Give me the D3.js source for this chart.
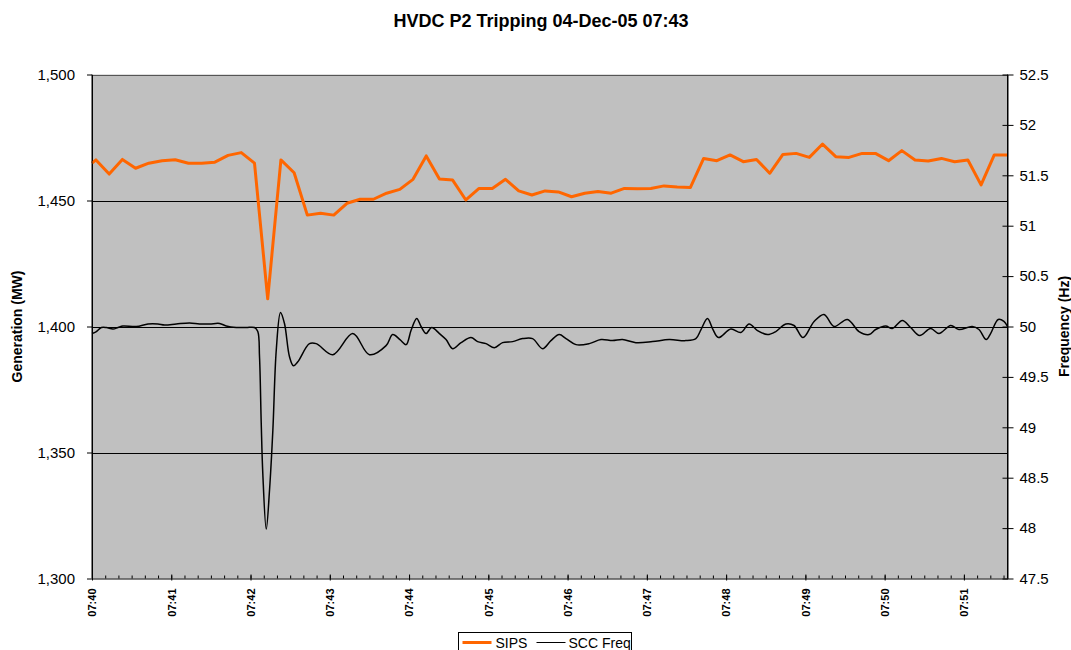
<!DOCTYPE html>
<html>
<head>
<meta charset="utf-8">
<script src="https://cdn.jsdelivr.net/npm/d3@7"></script>
<style>
  body { margin: 0; background: #fff; }
  text { font-family: "Liberation Sans", Arial, sans-serif; fill: #000; }
</style>
</head>
<body>
<script>
// SIPS generation, sampled every 10 s (MW)
const sipsTimes = [
  "07:40:00", "07:40:03", "07:40:13", "07:40:23", "07:40:33", "07:40:43", "07:40:53",
  "07:41:03", "07:41:13", "07:41:23", "07:41:33", "07:41:43", "07:41:53",
  "07:42:03", "07:42:13", "07:42:23", "07:42:33", "07:42:43", "07:42:53",
  "07:43:03", "07:43:13", "07:43:23", "07:43:33", "07:43:43", "07:43:53",
  "07:44:03", "07:44:13", "07:44:23", "07:44:33", "07:44:43", "07:44:53",
  "07:45:03", "07:45:13", "07:45:23", "07:45:33", "07:45:43", "07:45:53",
  "07:46:03", "07:46:13", "07:46:23", "07:46:33", "07:46:43", "07:46:53",
  "07:47:03", "07:47:13", "07:47:23", "07:47:33", "07:47:43", "07:47:53",
  "07:48:03", "07:48:13", "07:48:23", "07:48:33", "07:48:43", "07:48:53",
  "07:49:03", "07:49:13", "07:49:23", "07:49:33", "07:49:43", "07:49:53",
  "07:50:03", "07:50:13", "07:50:23", "07:50:33", "07:50:43", "07:50:53",
  "07:51:03", "07:51:13", "07:51:23", "07:51:33"
];
const sipsValues = [
  1464.8, 1466.1, 1460.5, 1466.3, 1462.8, 1464.8, 1465.8,
  1466.2, 1464.8, 1464.8, 1465.2, 1467.9, 1469.0,
  1464.8, 1411.0, 1466.1, 1461.0, 1444.2, 1444.9,
  1444.2, 1448.9, 1450.5, 1450.5, 1452.9, 1454.4,
  1458.4, 1467.7, 1458.5, 1458.1, 1450.2, 1454.8,
  1454.8, 1458.4, 1453.8, 1452.2, 1453.8, 1453.4,
  1451.5, 1452.9, 1453.6, 1452.9, 1454.8, 1454.7,
  1454.8, 1455.8, 1455.4, 1455.2, 1466.7, 1465.8,
  1468.1, 1465.4, 1466.3, 1460.8, 1468.3, 1468.7,
  1467.1, 1472.4, 1467.4, 1467.1, 1468.7, 1468.7,
  1465.8, 1469.8, 1466.1, 1465.7, 1466.7, 1465.4,
  1466.1, 1456.2, 1468.1, 1468.1
];

// SCC frequency, seconds after 07:40:00 (Hz)
const freqSecs = [
  0, 3.3, 7.1, 10.9, 15.9, 19.7, 23.4, 33.6, 42.4, 49.9, 55, 63.8, 73.9, 81.4, 89, 96.6,
  101.6, 109.2, 116.8, 123, 125.5, 126.8, 128.1, 129.3, 131.9, 134.4, 136.9, 139.5,
  142.7, 145.7, 149.5, 152.5, 155.8, 164.6, 169.7, 182.3, 197.4, 210, 222.6, 227.6,
  233.1, 237.8, 241.6, 245.8, 249.1, 252.9, 257.1, 263, 268, 273, 279.4, 286.9,
  291.9, 298.3, 304.6, 310.8, 318.4, 326, 333.5, 341.1, 347.4, 353.7, 358.8, 366.4,
  376.4, 385.3, 394, 401.6, 411.7, 424.3, 436.9, 449.5, 457.1, 461, 465.9, 469.7,
  474.2, 483.6, 491.1, 497.4, 503.7, 511.3, 517.6, 525.2, 531.4, 538.2, 546.6, 554.1,
  561.7, 571.8, 580.6, 588.2, 593.2, 600.8, 605.8, 613.4, 619.7, 626.5, 634.8, 641.1,
  650, 656.2, 666.3, 671.4, 676.9, 680.2, 686, 690.3, 693
];
const freqValues = [
  49.93, 49.95, 49.99, 49.99, 49.975, 49.99, 50.005, 50.0, 50.025, 50.025, 50.015, 50.025, 50.035, 50.025, 50.025, 50.03,
  50.005, 49.99, 49.99, 49.99, 49.95, 49.70, 49.04, 48.54, 47.99, 48.38, 48.97, 49.77,
  50.14, 50.03, 49.70, 49.61, 49.65, 49.83, 49.83, 49.72, 49.93, 49.72, 49.81, 49.92,
  49.87, 49.82, 49.965, 50.08, 50.0, 49.93, 49.99, 49.93, 49.87, 49.78, 49.84, 49.89,
  49.85, 49.83, 49.79, 49.84, 49.85, 49.88, 49.88, 49.78, 49.86, 49.92, 49.88, 49.82,
  49.83, 49.87, 49.86, 49.87, 49.84, 49.85, 49.87, 49.86, 49.88, 49.97, 50.08, 49.98,
  49.89, 49.975, 49.94, 50.025, 49.96, 49.92, 49.95, 50.025, 50.01, 49.89, 50.05, 50.12,
  50.0, 50.07, 49.95, 49.92, 49.97, 50.005, 49.98, 50.06, 49.99, 49.91, 49.98, 49.93,
  50.01, 49.97, 50.0, 49.97, 49.87, 49.93, 50.07, 50.05, 50.0
];

const genTicks = [1300, 1350, 1400, 1450, 1500];
const freqTicks = [47.5, 48, 48.5, 49, 49.5, 50, 50.5, 51, 51.5, 52, 52.5];

const width = 1071;
const height = 650;
const plotLeft = 92;
const plotRight = 1007.5;
const plotTop = 74.5;
const plotBottom = 578.5;

const parseTime = d3.timeParse("%H:%M:%S");
const t0 = parseTime("07:40:00");
const tEnd = parseTime("07:51:33");

const svg = d3
  .select("body")
  .append("svg")
  .attr("width", width)
  .attr("height", height);

const xScale = d3.scaleTime().domain([t0, tEnd]).range([plotLeft, plotRight]);
const yScale = d3.scaleLinear().domain([1300, 1500]).range([plotBottom, plotTop]);
const y2Scale = d3.scaleLinear().domain([47.5, 52.5]).range([plotBottom, plotTop]);

// plot area
svg.append("rect")
  .attr("x", plotLeft)
  .attr("y", plotTop)
  .attr("width", plotRight - plotLeft)
  .attr("height", plotBottom - plotTop)
  .attr("fill", "#c0c0c0");

// gridlines
svg.append("g")
  .selectAll("line")
  .data(genTicks.slice(1))
  .enter()
  .append("line")
  .attr("x1", plotLeft)
  .attr("x2", plotRight)
  .attr("y1", d => Math.round(yScale(d)) + 0.5)
  .attr("y2", d => Math.round(yScale(d)) + 0.5)
  .attr("stroke", d => d === 1500 ? "#555" : "#000")
  .attr("stroke-width", 1);

// left axis
const yAxis = d3.axisLeft(yScale)
  .tickValues(genTicks)
  .tickFormat(d3.format(","))
  .tickSize(5)
  .tickPadding(12)
  .tickSizeOuter(0);
const gy = svg.append("g")
  .attr("transform", `translate(${plotLeft}, 0)`)
  .call(yAxis);
gy.selectAll("text").style("font-size", "15px");

// right axis, ticks cross the line
const y2Axis = d3.axisRight(y2Scale)
  .tickValues(freqTicks)
  .tickFormat(d => d)
  .tickSize(6)
  .tickPadding(6)
  .tickSizeOuter(0);
const gy2 = svg.append("g")
  .attr("transform", `translate(${plotRight}, 0)`)
  .call(y2Axis);
gy2.selectAll(".tick line").attr("x1", -5);
gy2.selectAll("text").style("font-size", "15px");

// SIPS line
const sipsData = sipsTimes.map((t, i) => ({ t: parseTime(t), v: sipsValues[i] }));
svg.append("path")
  .datum(sipsData)
  .attr("fill", "none")
  .attr("stroke", "#ff6600")
  .attr("stroke-width", 3)
  .attr("stroke-linejoin", "round")
  .attr("d", d3.line().x(d => xScale(d.t)).y(d => yScale(d.v)));

// frequency line
const freqData = freqSecs.map((s, i) => ({ t: new Date(t0.getTime() + s * 1000), v: freqValues[i] }));
svg.append("path")
  .datum(freqData)
  .attr("fill", "none")
  .attr("stroke", "#000")
  .attr("stroke-width", 1.5)
  .attr("d", d3.line().curve(d3.curveCatmullRom.alpha(0.5)).x(d => xScale(d.t)).y(d => y2Scale(d.v)));

// x axis
const xMinor = d3.axisBottom(xScale)
  .ticks(d3.timeSecond.every(10))
  .tickFormat("")
  .tickSize(-3)
  .tickSizeOuter(0);
svg.append("g")
  .attr("transform", `translate(0, ${plotBottom})`)
  .call(xMinor)
  .select(".domain").remove();

const xAxis = d3.axisBottom(xScale)
  .ticks(d3.timeMinute.every(1))
  .tickFormat(d3.timeFormat("%H:%M"))
  .tickSize(2)
  .tickSizeOuter(0);
const gx = svg.append("g")
  .attr("transform", `translate(0, ${plotBottom})`)
  .call(xAxis);
gx.selectAll(".tick line").attr("y1", -4);
gx.selectAll("text")
  .attr("transform", "translate(0, 10) rotate(-90)")
  .attr("x", 0)
  .attr("y", 0)
  .attr("dy", "0.35em")
  .attr("text-anchor", "end")
  .style("font-size", "11px")
  .style("font-weight", "bold");

// left and right border lines
svg.append("line")
  .attr("x1", plotLeft).attr("x2", plotLeft)
  .attr("y1", plotTop).attr("y2", plotBottom)
  .attr("stroke", "#000");
svg.append("line")
  .attr("x1", plotRight).attr("x2", plotRight)
  .attr("y1", plotTop).attr("y2", plotBottom)
  .attr("stroke", "#000");

// titles
svg.append("text")
  .attr("x", 541)
  .attr("y", 27)
  .attr("text-anchor", "middle")
  .style("font-size", "18px")
  .style("font-weight", "bold")
  .text("HVDC P2 Tripping 04-Dec-05 07:43");

svg.append("text")
  .attr("transform", `translate(22, ${(plotTop + plotBottom) / 2}) rotate(-90)`)
  .attr("text-anchor", "middle")
  .style("font-size", "14px")
  .style("font-weight", "bold")
  .text("Generation (MW)");

svg.append("text")
  .attr("transform", `translate(1069, ${(plotTop + plotBottom) / 2}) rotate(-90)`)
  .attr("text-anchor", "middle")
  .style("font-size", "14px")
  .style("font-weight", "bold")
  .text("Frequency (Hz)");

// legend
const legend = svg.append("g").attr("transform", "translate(458.5, 632.5)");
legend.append("rect")
  .attr("width", 173)
  .attr("height", 24)
  .attr("fill", "#fff")
  .attr("stroke", "#000");
legend.append("line")
  .attr("x1", 4).attr("x2", 33).attr("y1", 10).attr("y2", 10)
  .attr("stroke", "#ff6600").attr("stroke-width", 3);
legend.append("text").attr("x", 37).attr("y", 15).style("font-size", "14px").text("SIPS");
legend.append("line")
  .attr("x1", 78).attr("x2", 107).attr("y1", 10).attr("y2", 10)
  .attr("stroke", "#000").attr("stroke-width", 1);
legend.append("text").attr("x", 110).attr("y", 15).style("font-size", "14px").text("SCC Freq");
</script>
</body>
</html>
